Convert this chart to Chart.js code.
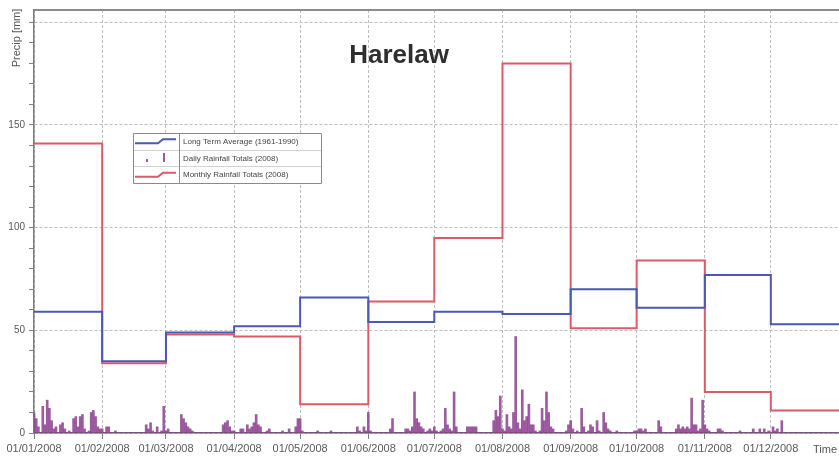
<!DOCTYPE html>
<html>
<head>
<meta charset="utf-8">
<title>Harelaw</title>
<script src="https://cdn.jsdelivr.net/npm/chart.js@4"></script>
<style>
  html, body { margin: 0; padding: 0; background: #fff; }
  #wrap { width: 839px; height: 461px; }
</style>
</head>
<body>
<div id="wrap"><canvas id="rainChart" width="839" height="461"></canvas></div>
<script>
// Day-of-year where each month of 2008 starts (leap year), plus the end of the year
const monthStarts = [0, 31, 60, 91, 121, 152, 182, 213, 244, 274, 305, 335];
const yearEnd = 366;
const monthLabels = [
  "01/01/2008", "01/02/2008", "01/03/2008", "01/04/2008", "01/05/2008", "01/06/2008",
  "01/07/2008", "01/08/2008", "01/09/2008", "01/10/2008", "01/11/2008", "01/12/2008"
];

// Monthly totals [mm]
const monthlyTotals = [141, 34, 48, 47, 14, 64, 95, 180, 51, 84, 20, 11];
const longTermAverage = [59, 35, 49, 52, 66, 54, 59, 58, 70, 61, 77, 53];

// Daily rainfall [mm], one array per month
const dailyJan = [10, 7, 3, 0, 13, 4, 16, 12, 6, 2, 3, 0, 4, 5, 2, 0, 1, 0, 7, 8, 3, 8, 9, 2, 0, 1, 10, 11, 8, 3, 2];
const dailyFeb = [2, 0, 3, 3, 0, 0, 1, 0, 0, 0, 0, 0, 0, 0, 0, 0, 0, 0, 0, 0, 4, 2, 5, 1, 0, 3, 0, 1, 13];
const dailyMar = [1, 2, 0, 0, 0, 0, 0, 9, 7, 5, 3, 2, 1, 0, 0, 0, 0, 0, 0, 0, 0, 0, 0, 0, 0, 0, 4, 5, 6, 3, 1];
const dailyApr = [1, 0, 0, 2, 2, 0, 4, 2, 3, 5, 9, 4, 3, 0, 0, 1, 2, 0, 0, 0, 0, 0, 1, 0, 0, 2, 0, 0, 3, 7];
const dailyMay = [7, 1, 0, 0, 0, 0, 0, 0, 1, 0, 0, 0, 0, 0, 1, 0, 0, 0, 0, 0, 0, 0, 0, 0, 0, 0, 3, 1, 0, 3, 1];
const dailyJun = [10, 1, 0, 0, 0, 0, 0, 0, 0, 0, 2, 7, 0, 0, 0, 0, 0, 2, 2, 1, 3, 20, 7, 5, 3, 2, 0, 1, 2, 1];
const dailyJul = [3, 1, 0, 1, 2, 12, 4, 2, 1, 20, 3, 0, 0, 0, 0, 3, 3, 3, 3, 3, 0, 0, 0, 0, 0, 0, 0, 6, 11, 8, 18];
const dailyAug = [2, 1, 9, 3, 2, 10, 47, 5, 2, 21, 6, 8, 14, 4, 4, 1, 0, 1, 12, 6, 20, 10, 3, 2, 0, 0, 0, 0, 0, 1, 4];
const dailySep = [6, 2, 0, 1, 0, 12, 3, 0, 1, 4, 3, 0, 6, 1, 0, 10, 5, 2, 1, 0, 0, 1, 0, 0, 0, 0, 0, 0, 0, 1];
const dailyOct = [1, 2, 2, 1, 2, 0, 0, 0, 0, 0, 6, 3, 0, 0, 0, 0, 0, 0, 2, 4, 2, 3, 2, 3, 2, 17, 4, 4, 1, 2, 16];
const dailyNov = [4, 2, 1, 0, 0, 0, 2, 2, 1, 0, 0, 0, 0, 0, 0, 0, 1, 0, 0, 0, 0, 0, 2, 0, 0, 2, 0, 2, 0, 1];
const dailyDec = [0, 3, 1, 2, 0, 6, 0, 0, 0, 0, 0, 0, 0, 0, 0, 0, 0, 0, 0, 0, 0, 0, 0, 0, 0, 0, 0, 0, 0, 0, 0];

const dailyRain = [].concat(dailyJan, dailyFeb, dailyMar, dailyApr, dailyMay, dailyJun,
  dailyJul, dailyAug, dailySep, dailyOct, dailyNov, dailyDec);

const BLUE = "#4c58b4";
const RED = "#de5a66";
const PURPLE = "rgba(140, 63, 142, 0.85)";
const FONT = "'Liberation Sans', Arial, sans-serif";

// monthly value holds from the first of the month to the next month
function stepPoints(values) {
  const pts = values.map((v, i) => ({ x: monthStarts[i], y: v }));
  pts.push({ x: yearEnd, y: values[values.length - 1] });
  return pts;
}

// frame, titles and the boxed legend
const chartDecor = {
  id: "chartDecor",
  afterDraw(chart) {
    const { ctx, chartArea } = chart;
    ctx.save();

    // top frame line
    ctx.strokeStyle = "#8c8c8c";
    ctx.lineWidth = 2;
    ctx.beginPath();
    ctx.moveTo(chartArea.left, chartArea.top);
    ctx.lineTo(chartArea.right, chartArea.top);
    ctx.stroke();

    // station name
    ctx.fillStyle = "#2e2e2e";
    ctx.font = "bold 26px " + FONT;
    ctx.textAlign = "center";
    ctx.textBaseline = "middle";
    ctx.fillText("Harelaw", 399, 56);

    // axis captions
    ctx.fillStyle = "#555";
    ctx.font = "11px " + FONT;
    ctx.textAlign = "right";
    ctx.fillText("Time", 837, 450);
    ctx.save();
    ctx.translate(17, 38);
    ctx.rotate(-Math.PI / 2);
    ctx.textAlign = "center";
    ctx.fillText("Precip [mm]", 0, 0);
    ctx.restore();

    // legend table
    const bx = 133, by = 133, bw = 188, bh = 50, sw = 46;
    const rowH = bh / 3;
    ctx.fillStyle = "#fff";
    ctx.fillRect(bx, by, bw, bh);
    ctx.strokeStyle = "#d2d2d2";
    ctx.lineWidth = 1;
    ctx.beginPath();
    for (let i = 1; i < 3; i++) {
      ctx.moveTo(bx, Math.round(by + rowH * i) + 0.5);
      ctx.lineTo(bx + bw, Math.round(by + rowH * i) + 0.5);
    }
    ctx.stroke();
    ctx.strokeStyle = "#8a8a8a";
    ctx.beginPath();
    ctx.rect(bx + 0.5, by + 0.5, bw, bh);
    ctx.moveTo(bx + sw + 0.5, by);
    ctx.lineTo(bx + sw + 0.5, by + bh);
    ctx.stroke();

    const rows = [chart.data.datasets[1], chart.data.datasets[0], chart.data.datasets[2]];
    ctx.font = "8px " + FONT;
    ctx.textAlign = "left";
    ctx.textBaseline = "middle";
    rows.forEach((ds, i) => {
      const cy = by + rowH * (i + 0.5);
      if (ds.type === "bar") {
        ctx.fillStyle = ds.backgroundColor;
        ctx.fillRect(bx + 13, cy + 1, 2, 3);
        ctx.fillRect(bx + 30, cy - 5, 2, 9);
      } else {
        ctx.strokeStyle = ds.borderColor;
        ctx.lineWidth = 2;
        ctx.beginPath();
        ctx.moveTo(bx + 2, cy + 2);
        ctx.lineTo(bx + 25, cy + 2);
        ctx.lineTo(bx + 30, cy - 2);
        ctx.lineTo(bx + sw - 3, cy - 2);
        ctx.stroke();
      }
      ctx.fillStyle = "#444";
      ctx.fillText(ds.label, bx + sw + 4, cy + 0.5);
    });

    ctx.restore();
  }
};

const ctx = document.getElementById("rainChart").getContext("2d");

new Chart(ctx, {
  type: "line",
  data: {
    datasets: [
      {
        type: "bar",
        label: "Daily Rainfall Totals (2008)",
        data: dailyRain.map((v, i) => ({ x: i, y: v })),
        backgroundColor: PURPLE,
        borderWidth: 0,
        barThickness: 2,
      },
      {
        label: "Long Term Average (1961-1990)",
        data: stepPoints(longTermAverage),
        stepped: "before",
        borderColor: BLUE,
        borderWidth: 2,
        pointRadius: 0,
        fill: false,
      },
      {
        label: "Monthly Rainfall Totals (2008)",
        data: stepPoints(monthlyTotals),
        stepped: "before",
        borderColor: RED,
        borderWidth: 2,
        pointRadius: 0,
        fill: false,
      },
    ],
  },
  options: {
    responsive: false,
    animation: false,
    layout: { padding: { top: 8, right: 0, left: 0, bottom: 0 } },
    plugins: {
      legend: { display: false },
      title: { display: false },
      tooltip: { enabled: false },
    },
    scales: {
      x: {
        type: "linear",
        min: 0,
        max: yearEnd,
        offset: false,
        afterBuildTicks: (scale) => {
          scale.ticks = monthStarts.map((v) => ({ value: v }));
        },
        afterFit: (scale) => {
          scale.height = 28;
        },
        ticks: {
          autoSkip: false,
          maxRotation: 0,
          padding: 3,
          color: "#5a5a5a",
          font: { family: FONT, size: 11 },
          callback: (v) => monthLabels[monthStarts.indexOf(v)],
        },
        grid: {
          offset: false,
          color: "#bdbdbd",
          tickColor: "#808080",
          tickLength: 6,
        },
        border: { color: "#6f5f72", width: 1.5, dash: [3, 2] },
      },
      y: {
        min: 0,
        max: 206,
        afterFit: (scale) => {
          scale.width = 34;
        },
        ticks: {
          stepSize: 10,
          includeBounds: false,
          autoSkip: false,
          padding: 4,
          color: "#5a5a5a",
          font: { family: FONT, size: 10 },
          callback: (v) => (v % 50 === 0 && v < 200 ? v : ""),
        },
        grid: {
          color: (c) => (c.tick && c.tick.value % 50 === 0 ? "#bdbdbd" : "rgba(0,0,0,0)"),
          tickColor: "#808080",
          tickLength: 5,
        },
        border: { color: "#7a7a7a", width: 1.5, dash: [3, 2] },
      },
    },
  },
  plugins: [chartDecor],
});
</script>
</body>
</html>
